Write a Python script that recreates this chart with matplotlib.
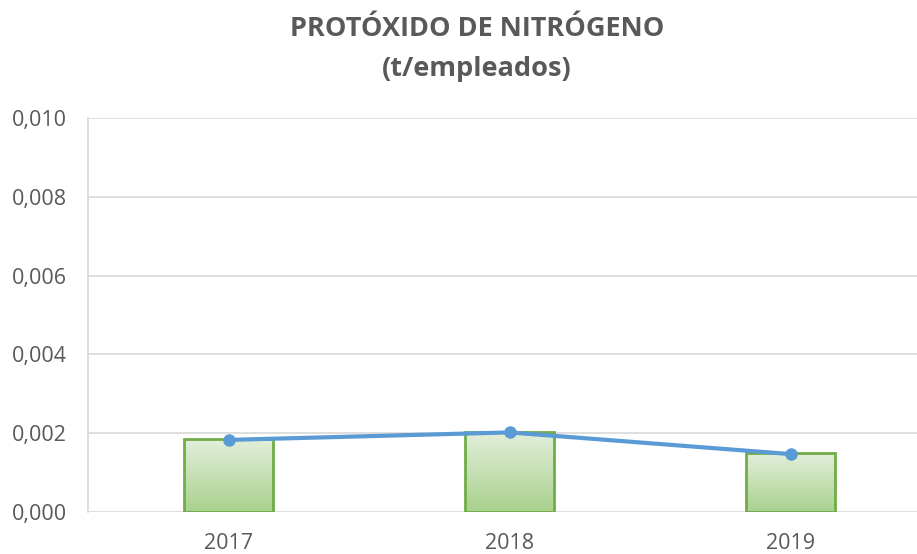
import numpy as np
import matplotlib
matplotlib.use('Agg')
import matplotlib.pyplot as plt
from matplotlib.colors import LinearSegmentedColormap
from matplotlib.ticker import FuncFormatter

years = ['2017', '2018', '2019']
bar_values = [0.00185, 0.00203, 0.00149]
line_values = [0.00183, 0.00202, 0.00147]
title = 'PROTÓXIDO DE NITRÓGENO\n(t/empleados)'

plt.rcParams['font.family'] = ['Open Sans', 'DejaVu Sans']

fig = plt.figure(figsize=(9.17, 5.54), dpi=100)
ax = fig.add_axes([88/917, 42/554, 843/917, 394/554])

x = np.arange(len(years))
bars = ax.bar(x, bar_values, width=0.32, facecolor='none', edgecolor='#70ad47', linewidth=2, zorder=3)

# vertical gradient fill inside each bar
cmap = LinearSegmentedColormap.from_list('grn', ['#a9d18e', '#e2efda'])
grad = np.linspace(0, 1, 256).reshape(-1, 1)
for b in bars:
    x0, w, h = b.get_x(), b.get_width(), b.get_height()
    im = ax.imshow(grad, cmap=cmap, origin='lower', aspect='auto',
                   extent=[x0, x0 + w, 0, h], zorder=2)
    im.set_clip_path(b)

ax.plot(x, line_values, color='#5b9bd5', linewidth=3, marker='o', markersize=8, zorder=4)

ax.set_xlim(-0.5, 2.5)
ax.set_ylim(0, 0.010)
ax.set_yticks(np.arange(0, 0.0101, 0.002))
ax.yaxis.set_major_formatter(FuncFormatter(lambda v, p: f'{v:.3f}'.replace('.', ',')))
ax.set_xticks(x)
ax.set_xticklabels(years)
ax.tick_params(axis='both', length=0, labelsize=15.5, colors='#595959')
ax.tick_params(axis='y', pad=15)
ax.tick_params(axis='x', pad=15)

ax.grid(axis='y', color='#d9d9d9', linewidth=1.2, zorder=0)
ax.set_axisbelow(True)
for s in ['top', 'right', 'bottom']:
    ax.spines[s].set_visible(False)
ax.spines['left'].set_color('#d9d9d9')
ax.spines['left'].set_linewidth(1.2)

fig.text(477/917, 1 - 49/554, title, ha='center', va='center', fontsize=19.5,
         fontweight='bold', color='#595959', linespacing=1.7)

fig.savefig('out.png', dpi=100)
